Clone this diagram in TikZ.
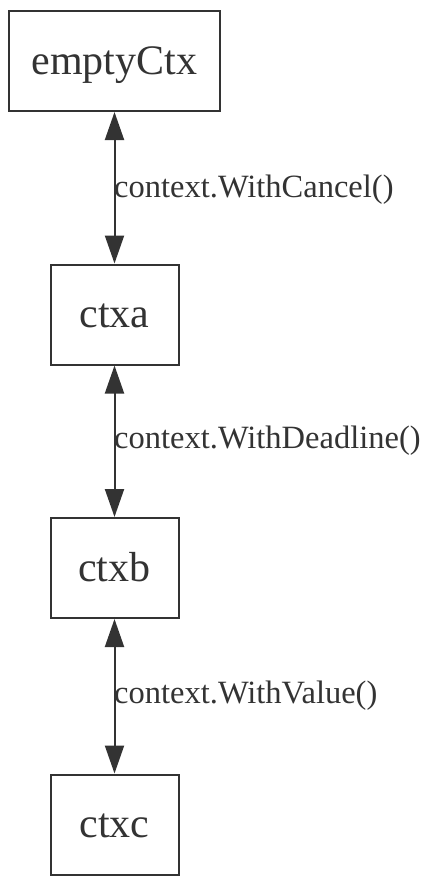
\documentclass[tikz,border=0pt]{standalone}
\usepackage{fontspec}
\setmainfont{Liberation Serif}
\usetikzlibrary{arrows.meta}
\definecolor{ink}{HTML}{333333}
\begin{document}
\begin{tikzpicture}[x=1pt,y=-1pt,
  ctxbox/.style={draw=ink,line width=2pt,inner sep=0pt,text height=26pt,text depth=0pt,
    font=\fontsize{42}{42}\selectfont,text=ink,minimum height=100pt},
  link/.style={draw=ink,line width=2pt,{Triangle[length=28pt,width=19pt]}-{Triangle[length=28pt,width=19pt]}},
  lbl/.style={anchor=base west,inner sep=0pt,font=\fontsize{32.5}{32.5}\selectfont,text=ink}]
\useasboundingbox (0,0) rectangle (432,884);
\node[ctxbox,minimum width=211pt] (e) at (114.5,61) {emptyCtx};
\node[ctxbox,minimum width=128pt] (a) at (114.5,314.5) {ctxa};
\node[ctxbox,minimum width=128pt] (b) at (114.5,568) {ctxb};
\node[ctxbox,minimum width=128pt] (c) at (114.5,824.5) {ctxc};
\draw[link] (e.south) -- (a.north);
\draw[link] (a.south) -- (b.north);
\draw[link] (b.south) -- (c.north);
\node[lbl] (l1) at (114,197) {context.WithCancel()};
\node[lbl] (l2) at (114,448) {context.WithDeadline()};
\node[lbl] (l3) at (114,703) {context.WithValue()};
\end{tikzpicture}
\end{document}
